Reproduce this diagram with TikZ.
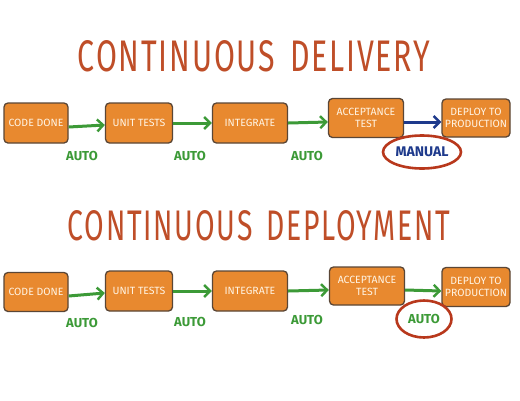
\documentclass[tikz,border=0pt]{standalone}
\usepackage{fontspec}
\setmainfont{Fira Sans}
\usetikzlibrary{arrows.meta,shapes.geometric}
\definecolor{boxfill}{HTML}{E8892F}
\definecolor{boxline}{HTML}{5A4636}
\definecolor{boxtext}{HTML}{FFF4E4}
\definecolor{autogreen}{HTML}{3C9A37}
\definecolor{titlered}{HTML}{BF4E28}
\definecolor{manblue}{HTML}{1E3A8C}
\definecolor{circred}{HTML}{B8381C}
\tikzset{
  stagebox/.style={draw=boxline, line width=1.3pt, fill=boxfill, rounded corners=4pt,
    text=boxtext, font=\fontsize{10.5}{11.5}\selectfont, align=center, inner sep=1pt},
  title/.style={text=titlered, inner sep=0pt, font=\fontsize{30}{30}\selectfont\addfontfeature{LetterSpace=6}},
  autolbl/.style={text=autogreen, font=\bfseries\fontsize{13}{13}\selectfont, inner sep=1pt},
  flow/.style={draw=autogreen, line width=3pt, -{Straight Barb[length=6pt,width=12pt,line width=2.4pt]}},
  manflow/.style={draw=manblue, line width=3pt, -{Straight Barb[length=6pt,width=12pt,line width=2.4pt]}},
  circled/.style={draw=circred, line width=2.6pt, ellipse, inner sep=0pt}
}
\begin{document}
\begin{tikzpicture}[x=1pt,y=-1pt]
\useasboundingbox[fill=white] (0,0) rectangle (520,400);
% titles
\node[title] (t1) at (254,56) {\resizebox{352pt}{31pt}{CONTINUOUS\hspace{0.5em}DELIVERY}};
\node[title] (t2) at (259,226) {\resizebox{382pt}{30pt}{CONTINUOUS\hspace{0.5em}DEPLOYMENT}};
% row 1
\node[stagebox, minimum width=64pt, minimum height=40pt] (b1) at (36,123) {CODE DONE};
\node[stagebox, minimum width=67pt, minimum height=40pt] (b2) at (139,123) {UNIT TESTS};
\node[stagebox, minimum width=75pt, minimum height=40pt] (b3) at (250,123) {INTEGRATE};
\node[stagebox, minimum width=75pt, minimum height=39pt] (b4) at (366,118) {ACCEPTANCE\\TEST};
\node[stagebox, minimum width=68pt, minimum height=38pt] (b5) at (476,118) {DEPLOY TO\\PRODUCTION};
\draw[flow] ([yshift=-4pt]b1.east) -- ([yshift=-2pt]b2.west);
\draw[flow] (b2.east) -- (b3.west);
\draw[flow] ([yshift=0pt]b3.east) -- ([yshift=-4pt]b4.west);
\draw[manflow] ([yshift=-4pt]b4.east) -- ([yshift=-4pt]b5.west);
\node[autolbl] (l1) at (82,156) {AUTO};
\node[autolbl] (l2) at (190,156) {AUTO};
\node[autolbl] (l3) at (307,156) {AUTO};
\node[circled, minimum width=78pt, minimum height=33pt, text=manblue,
  font=\bfseries\fontsize{14}{14}\selectfont] (m1) at (422,152) {MANUAL};
% row 2
\node[stagebox, minimum width=64pt, minimum height=39pt] (c1) at (36,292) {CODE DONE};
\node[stagebox, minimum width=67pt, minimum height=40pt] (c2) at (139,291) {UNIT TESTS};
\node[stagebox, minimum width=75pt, minimum height=40pt] (c3) at (250,291) {INTEGRATE};
\node[stagebox, minimum width=75pt, minimum height=38pt] (c4) at (367,286) {ACCEPTANCE\\TEST};
\node[stagebox, minimum width=68pt, minimum height=39pt] (c5) at (476,287) {DEPLOY TO\\PRODUCTION};
\draw[flow] ([yshift=-4pt]c1.east) -- ([yshift=-2pt]c2.west);
\draw[flow] (c2.east) -- (c3.west);
\draw[flow] ([yshift=0pt]c3.east) -- ([yshift=-4pt]c4.west);
\draw[flow] ([yshift=-4pt]c4.east) -- ([yshift=-4pt]c5.west);
\node[autolbl] (k1) at (82,323) {AUTO};
\node[autolbl] (k2) at (190,322) {AUTO};
\node[autolbl] (k3) at (307,320) {AUTO};
\node[circled, minimum width=55pt, minimum height=37pt, text=autogreen,
  font=\bfseries\fontsize{13}{13}\selectfont] (m2) at (424,319) {AUTO};
\end{tikzpicture}
\end{document}
